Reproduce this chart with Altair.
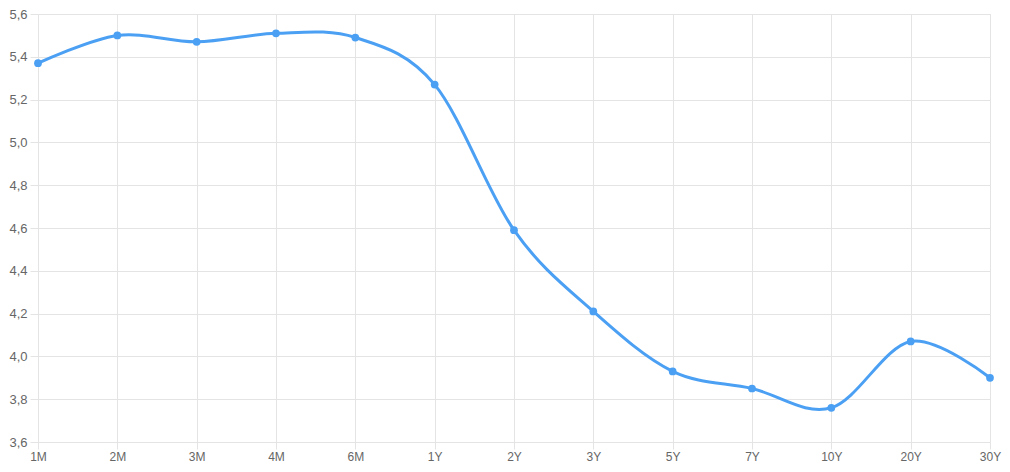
import altair as alt
import pandas as pd

tenors = ["1M", "2M", "3M", "4M", "6M", "1Y", "2Y", "3Y", "5Y", "7Y", "10Y", "20Y", "30Y"]
yields = [5.37, 5.50, 5.47, 5.51, 5.49, 5.27, 4.59, 4.21, 3.93, 3.85, 3.76, 4.07, 3.90]
y_ticks = [3.6, 3.8, 4.0, 4.2, 4.4, 4.6, 4.8, 5.0, 5.2, 5.4, 5.6]

df = pd.DataFrame({"tenor": tenors, "yield": yields})

blue = "#4BA0F4"
grid = "#E4E4E4"

x = alt.X("tenor:N", sort=tenors, scale=alt.Scale(type="point", padding=0),
          axis=alt.Axis(title=None, labelAngle=0, grid=True, gridColor=grid,
                        tickColor=grid, tickSize=7, domain=False,
                        labelColor="#666666", labelFontSize=12, labelPadding=2,
                        labelFont="Liberation Sans"))
y = alt.Y("yield:Q", scale=alt.Scale(domain=[3.6, 5.6], nice=False, zero=False),
          axis=alt.Axis(title=None, values=y_ticks,
                        labelExpr="replace(format(datum.value, '.1f'), '.', ',')",
                        grid=True, gridColor=grid, tickColor=grid, tickSize=8,
                        domain=False, labelColor="#666666", labelFontSize=13,
                        labelPadding=3, labelFont="Liberation Sans"))

base = alt.Chart(df)
line = base.mark_line(interpolate="cardinal", tension=0, color=blue, strokeWidth=3).encode(x=x, y=y)
pts = base.mark_point(filled=True, opacity=1, color=blue, size=60).encode(x=x, y=y)

chart = (line + pts).properties(
    width=952, height=428,
    autosize=alt.AutoSizeParams(type="none"),
    padding={"left": 30, "top": 6, "right": 12, "bottom": 22},
).configure_view(stroke=None).configure(background="white")

chart.save("out.html", embed_options={"renderer": "svg", "actions": False})
